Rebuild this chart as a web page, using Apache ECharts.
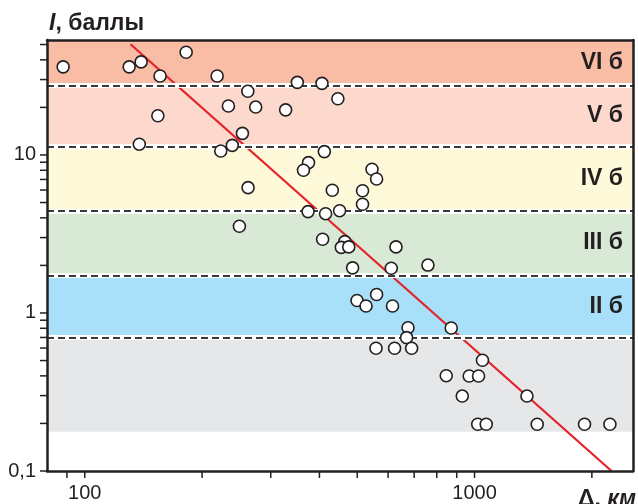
<!DOCTYPE html>
<html><head><meta charset="utf-8">
<script src="https://cdn.jsdelivr.net/npm/echarts@6/dist/echarts.min.js"></script>
<style>html,body{margin:0;padding:0;background:#fff}#c{width:638px;height:504px}</style>
</head><body><div id="c"></div>
<script>
// Epicentral distance (km) and intensity (points) of observations
const distanceKm = [88, 130, 139.5, 156, 182, 154, 138, 218.6, 351, 406,
  262, 233.6, 274.5, 327.6, 446, 253.8, 239, 223.3, 411.7, 375,
  364, 262.4, 431.6, 374, 414.8, 450.6, 249.3, 545.7, 560.7, 516,
  516, 407.6, 464.7, 455.2, 475.6, 628.7, 486.6, 611.4, 759.4, 499.5,
  526.7, 560.7, 616, 675, 669.3, 558.7, 623.5, 689.5, 871.4, 1048,
  846, 969, 1024, 930, 1363, 1019, 1071.5, 1448, 1915, 2225];
const intensity = [36.1, 36.1, 38.8, 31.6, 44.7, 17.7, 11.7, 31.6, 28.8, 28.4,
  25.3, 20.4, 20.1, 19.3, 22.7, 13.7, 11.5, 10.6, 10.5, 8.94,
  8.0, 6.21, 5.98, 4.38, 4.25, 4.44, 3.54, 8.12, 7.05, 5.94,
  4.88, 2.93, 2.83, 2.60, 2.62, 2.62, 1.93, 1.92, 2.01, 1.20,
  1.107, 1.31, 1.107, 0.807, 0.698, 0.598, 0.598, 0.598, 0.804, 0.502,
  0.401, 0.399, 0.399, 0.298, 0.298, 0.1975, 0.1975, 0.1975, 0.1975, 0.1975];

const bandNames = ['', 'II б', 'III б', 'IV б', 'V б', 'VI б'];
const bandLow  = [0.177, 0.698, 1.733, 4.42, 11.29, 27.46];
const bandHigh = [0.698, 1.733, 4.42, 11.29, 27.46, 53.4];
const bandColors = ['#e6e7e8', '#a8dff9', '#d8ead5', '#fef9d8', '#fcd9cc', '#f9bda6'];
const boundaries = [0.698, 1.733, 4.42, 11.29, 27.46];

const fitLine = [[131, 50.2], [2246, 0.1]];

const xMajorTicks = [100, 1000];
const xTickLabels = ['100', '1000'];
const xMinorTicks = [90, 200, 300, 400, 500, 600, 700, 800, 900, 2000];
const yMajorTicks = [0.1, 1, 10];
const yTickLabels = ['0,1', '1', '10'];
const yMinorTicks = [0.2, 0.3, 0.4, 0.5, 0.6, 0.7, 0.8, 0.9, 2, 3, 4, 5, 6, 7, 8, 9, 20, 30, 40, 50];

const X_MIN = 80, X_MAX = 2550, Y_MIN = 0.1, Y_MAX = 53.4;

const FONT = "'Liberation Sans', Arial, Helvetica, sans-serif";
const INK = '#231f20';

function labelFor(v, ticks, labels) {
  const i = ticks.findIndex(t => Math.abs(Math.log10(v) - Math.log10(t)) < 1e-6);
  return i >= 0 ? labels[i] : '';
}

const chart = echarts.init(document.getElementById('c'), null, {renderer: 'canvas'});

const axisLine = {show: true, lineStyle: {color: INK, width: 2.5}};

const option = {
  animation: false,
  backgroundColor: '#fff',
  grid: {left: 47, right: 5, top: 40, bottom: 33, containLabel: false},
  xAxis: [{
    type: 'log', logBase: 10, min: X_MIN, max: X_MAX, position: 'bottom', z: 10,
    axisLine: axisLine, axisTick: {show: false}, splitLine: {show: false}, minorTick: {show: false},
    axisLabel: {
      show: true, margin: 12, color: INK, fontSize: 20, fontFamily: FONT,
      showMinLabel: true, showMaxLabel: true,
      formatter: v => labelFor(v, xMajorTicks, xTickLabels)
    }
  }, {
    type: 'log', logBase: 10, min: X_MIN, max: X_MAX, position: 'top', z: 10,
    axisLine: axisLine, axisTick: {show: false}, splitLine: {show: false}, axisLabel: {show: false}
  }],
  yAxis: [{
    type: 'log', logBase: 10, min: Y_MIN, max: Y_MAX, position: 'left', z: 10,
    axisLine: axisLine, axisTick: {show: false}, splitLine: {show: false}, minorTick: {show: false},
    axisLabel: {
      show: true, margin: 11, color: INK, fontSize: 20, fontFamily: FONT,
      formatter: v => labelFor(v, yMajorTicks, yTickLabels)
    }
  }, {
    type: 'log', logBase: 10, min: Y_MIN, max: Y_MAX, position: 'right', z: 10,
    axisLine: axisLine, axisTick: {show: false}, splitLine: {show: false}, axisLabel: {show: false}
  }],
  graphic: [{
    type: 'text', x: 49, y: 24, z: 20,
    style: {
      text: '{i|I}{b|, баллы}', verticalAlign: 'middle', textAlign: 'left',
      rich: {
        i: {fontStyle: 'italic', fontWeight: 'bold', fontSize: 23, fontFamily: FONT, fill: INK},
        b: {fontWeight: 'bold', fontSize: 23, fontFamily: FONT, fill: INK}
      }
    }
  }, {
    type: 'text', x: 636, y: 500, z: 20,
    style: {
      text: '{b|Δ, }{i|км}', verticalAlign: 'middle', textAlign: 'right',
      rich: {
        i: {fontStyle: 'italic', fontWeight: 'bold', fontSize: 23, fontFamily: FONT, fill: INK},
        b: {fontWeight: 'bold', fontSize: 23, fontFamily: FONT, fill: INK}
      }
    }
  }],
  series: [
    {
      type: 'scatter', data: [], silent: true, z: 1,
      markArea: {
        silent: true,
        label: {show: true, position: 'insideRight', distance: 10, color: INK,
                fontSize: 23, fontWeight: 'bold', fontFamily: FONT, formatter: '{b}'},
        data: bandLow.map((lo, i) => [
          {yAxis: lo, name: bandNames[i], itemStyle: {color: bandColors[i], opacity: 1}},
          {yAxis: bandHigh[i]}
        ])
      }
    },
    {
      type: 'scatter', data: [], silent: true, z: 2,
      markLine: {
        silent: true, symbol: ['none', 'none'], label: {show: false},
        lineStyle: {color: '#ffffff', width: 5, type: 'solid', opacity: 1},
        data: boundaries.map(v => ({yAxis: v}))
      }
    },
    {
      type: 'scatter', data: [], silent: true, z: 3,
      markLine: {
        silent: true, symbol: ['none', 'none'], label: {show: false},
        lineStyle: {color: '#3a3a3a', width: 2, type: [7, 4], opacity: 1},
        data: boundaries.map(v => ({yAxis: v}))
      }
    },
    {
      type: 'line', data: fitLine, showSymbol: false, silent: true, z: 4,
      lineStyle: {color: '#e5232a', width: 2.3}
    },
    {
      type: 'scatter', data: distanceKm.map((d, i) => [d, intensity[i]]), z: 5, silent: true,
      symbol: 'circle', symbolSize: 12,
      itemStyle: {color: '#ffffff', borderColor: INK, borderWidth: 1.6, opacity: 1}
    },
    {
      type: 'custom', clip: false, silent: true, z: 11,
      data: xMajorTicks.concat(xMinorTicks).map(v => [v, Y_MIN]),
      renderItem: (params, api) => {
        const p = api.coord([api.value(0), api.value(1)]);
        return {type: 'line', shape: {x1: p[0], y1: p[1], x2: p[0], y2: p[1] + 7},
                style: {stroke: INK, lineWidth: 1.5}};
      }
    },
    {
      type: 'custom', clip: false, silent: true, z: 11,
      data: yMajorTicks.concat(yMinorTicks).map(v => [X_MIN, v]),
      renderItem: (params, api) => {
        const p = api.coord([api.value(0), api.value(1)]);
        return {type: 'line', shape: {x1: p[0] - 7, y1: p[1], x2: p[0], y2: p[1]},
                style: {stroke: INK, lineWidth: 1.5}};
      }
    }
  ]
};
chart.setOption(option);
</script></body></html>
